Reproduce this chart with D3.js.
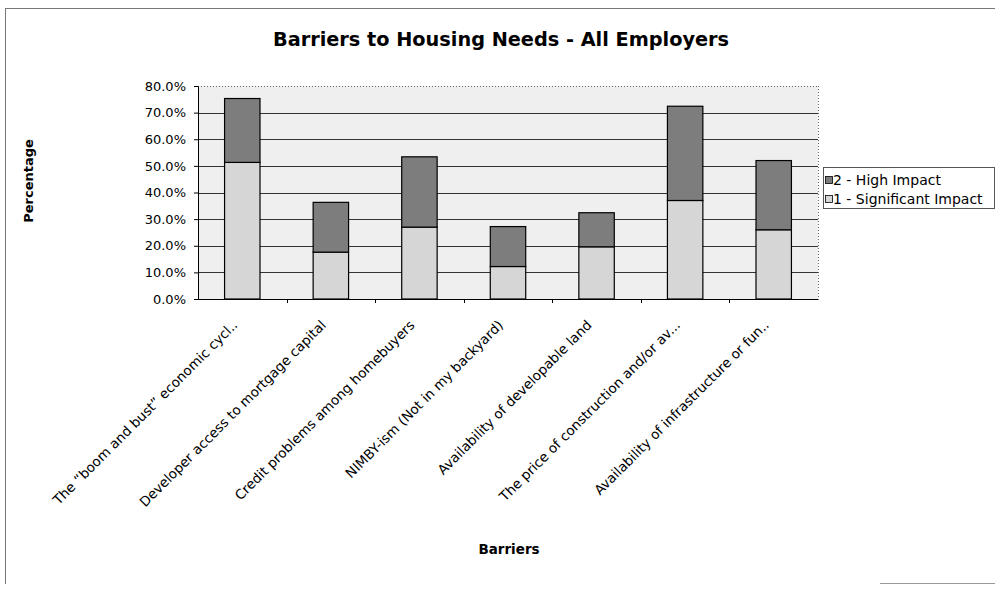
<!DOCTYPE html>
<html>
<head>
<meta charset="utf-8">
<script src="https://cdn.jsdelivr.net/npm/d3@7"></script>
<style>
  html, body { margin: 0; padding: 0; background: #fff; }
  svg { display: block; }
  text { font-family: "DejaVu Sans", Verdana, sans-serif; fill: #000; }
</style>
</head>
<body>
<svg id="chart" width="995" height="589"></svg>
<script>
// ---- data ----
const categories = [
  "The \u201Cboom and bust\u201D economic cycl..",
  "Developer access to mortgage capital",
  "Credit problems among homebuyers",
  "NIMBY-ism (Not in my backyard)",
  "Availability of developable land",
  "The price of construction and/or av...",
  "Availability of infrastructure or fun.."
];
const significantImpact = [0.513, 0.176, 0.270, 0.122, 0.196, 0.370, 0.260];
const highImpact        = [0.240, 0.187, 0.264, 0.150, 0.128, 0.354, 0.260];
const seriesNames = ["2 - High Impact", "1 - Significant Impact"];
const yTicks = [0, 0.1, 0.2, 0.3, 0.4, 0.5, 0.6, 0.7, 0.8];

(function () {
const svg = d3.select("#chart");

// outer frame
svg.append("line").attr("x1", 5).attr("x2", 995).attr("y1", 8.5).attr("y2", 8.5)
  .attr("stroke", "#777").attr("stroke-width", 1);
svg.append("line").attr("x1", 5.5).attr("x2", 5.5).attr("y1", 8).attr("y2", 584)
  .attr("stroke", "#777").attr("stroke-width", 1);
svg.append("line").attr("x1", 880).attr("x2", 995).attr("y1", 583.5).attr("y2", 583.5)
  .attr("stroke", "#999").attr("stroke-width", 1);

const pLeft = 198, pRight = 818, pTop = 86, pBottom = 299;

const x = d3.scaleBand().domain(categories).range([pLeft, pRight])
  .paddingInner(0.6).paddingOuter(0.3);
const y = d3.scaleLinear().domain([0, 0.8]).range([pBottom, pTop]);

// plot background
svg.append("rect").attr("x", pLeft).attr("y", pTop)
  .attr("width", pRight - pLeft).attr("height", pBottom - pTop)
  .attr("fill", "#efefef");

// gridlines
svg.append("g").selectAll("line").data(yTicks.filter(t => t > 0 && t < 0.8)).join("line")
  .attr("x1", pLeft).attr("x2", pRight)
  .attr("y1", d => Math.round(y(d)) + 0.5).attr("y2", d => Math.round(y(d)) + 0.5)
  .attr("stroke", "#333").attr("stroke-width", 1);
// top & right border dotted
svg.append("line").attr("x1", pLeft).attr("x2", pRight)
  .attr("y1", Math.round(y(0.8)) + 0.5).attr("y2", Math.round(y(0.8)) + 0.5)
  .attr("stroke", "#666").attr("stroke-dasharray", "1,2");
svg.append("line").attr("x1", pRight + 0.5).attr("x2", pRight + 0.5)
  .attr("y1", pTop).attr("y2", pBottom)
  .attr("stroke", "#666").attr("stroke-dasharray", "1,2");

// stacked bars
const stackData = categories.map((c, i) => ({cat: c, sig: significantImpact[i], high: highImpact[i]}));
const stack = d3.stack().keys(["sig", "high"])(stackData);
const fills = {sig: "#d6d6d6", high: "#7d7d7d"};
svg.append("g").selectAll("g").data(stack).join("g")
  .attr("fill", d => fills[d.key])
  .selectAll("rect").data(d => d).join("rect")
  .attr("x", d => x(d.data.cat))
  .attr("y", d => y(d[1]))
  .attr("width", x.bandwidth())
  .attr("height", d => y(d[0]) - y(d[1]))
  .attr("stroke", "#000").attr("stroke-width", 1.2);

// y axis
const yAxis = d3.axisLeft(y).tickValues(yTicks).tickFormat(d3.format(".1%")).tickSize(4).tickPadding(8);
const gy = svg.append("g").attr("transform", `translate(${pLeft},0)`).call(yAxis);
gy.select(".domain").attr("stroke", "#000");
gy.selectAll("line").attr("stroke", "#000");
gy.selectAll("text").attr("font-size", 13).attr("font-family", "DejaVu Sans, Verdana, sans-serif").attr("fill", "#000");

// x axis
const xAxis = d3.axisBottom(x).tickSize(0).tickFormat("");
const gx = svg.append("g").attr("transform", `translate(0,${pBottom})`).call(xAxis);
gx.select(".domain").attr("stroke", "#000");
// tick marks between categories
const step = x.step();
const bounds = d3.range(1, categories.length).map(i => x(categories[i]) - step * x.paddingInner() / 2);
gx.selectAll(".sep").data(bounds).join("line").attr("class", "sep")
  .attr("x1", d => Math.round(d) + 0.5).attr("x2", d => Math.round(d) + 0.5)
  .attr("y1", 0).attr("y2", 4).attr("stroke", "#000");

// category labels
svg.append("g").selectAll("text").data(categories).join("text")
  .attr("transform", d => `translate(${x(d) + x.bandwidth() / 2 - 4},326) rotate(-45)`)
  .attr("text-anchor", "end")
  .attr("font-size", 13.5)
  .text(d => d);

// titles
svg.append("text").attr("x", 501).attr("y", 46).attr("text-anchor", "middle")
  .attr("font-size", 19.3).attr("font-weight", "bold")
  .text("Barriers to Housing Needs - All Employers");
svg.append("text").attr("transform", "translate(33,181) rotate(-90)")
  .attr("text-anchor", "middle").attr("font-size", 13).attr("font-weight", "bold")
  .text("Percentage");
svg.append("text").attr("x", 509).attr("y", 554).attr("text-anchor", "middle")
  .attr("font-size", 13.5).attr("font-weight", "bold")
  .text("Barriers");

// legend
const lg = svg.append("g").attr("transform", "translate(823,167)");
lg.append("rect").attr("x", 0.5).attr("y", 0.5).attr("width", 171).attr("height", 41)
  .attr("fill", "#fff").attr("stroke", "#555");
const legendFills = [fills.high, fills.sig];
seriesNames.forEach((n, i) => {
  const ly = 13 + i * 19;
  lg.append("rect").attr("x", 2.5).attr("y", ly - 3.5).attr("width", 7).attr("height", 7)
    .attr("fill", legendFills[i]).attr("stroke", "#000").attr("stroke-width", 0.8);
  lg.append("text").attr("x", 10).attr("y", ly + 5).attr("font-size", 14).text(n);
});
})();
</script>
</body>
</html>
